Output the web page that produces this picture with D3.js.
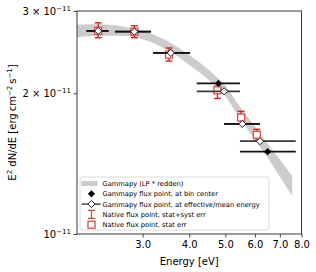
<!DOCTYPE html>
<html>
<head>
<meta charset="utf-8">
<script src="https://cdn.jsdelivr.net/npm/d3@7"></script>
<style>
body { margin: 0; background: #fff; }
text { font-family: "DejaVu Sans", sans-serif; }
</style>
</head>
<body>
<div id="sed"></div>
<script>
/* model band (LP * redden), flux in units of 1e-11 erg cm-2 s-1 */
var bandEnergy = [2.0, 2.3, 2.7, 3.14, 3.55, 4.0, 4.55, 5.0, 5.5, 6.0, 6.5, 7.0, 7.55];
var bandLow  = [2.636, 2.656, 2.653, 2.578, 2.456, 2.300, 2.125, 1.974, 1.753, 1.593, 1.454, 1.327, 1.206];
var bandHigh = [2.805, 2.810, 2.773, 2.689, 2.570, 2.416, 2.232, 2.073, 1.860, 1.698, 1.558, 1.443, 1.331];

/* gammapy flux points */
var binCenter  = [2.28, 2.85, 3.57, 4.79, 5.55, 6.49];
var binMin     = [2.12, 2.53, 3.20, 4.19, 4.96, 5.47];
var binMax     = [2.43, 3.16, 4.02, 5.47, 6.19, 7.72];
var fluxCenter = [2.72, 2.71, 2.44, 2.10, 1.72, 1.50];
var effEnergy  = [2.28, 2.85, 3.57, 4.96, 5.55, 6.19];
var fluxEff    = [2.72, 2.71, 2.44, 2.02, 1.72, 1.58];

/* native flux points */
var nativeEnergy = [2.28, 2.85, 3.53, 4.76, 5.51, 6.07];
var nativeFlux   = [2.72, 2.71, 2.42, 2.03, 1.775, 1.63];
var nativeLow    = [2.63, 2.63, 2.345, 1.95, 1.72, 1.585];
var nativeHigh   = [2.83, 2.79, 2.50, 2.07, 1.83, 1.675];

/* ticks */
var xTicks = [3, 4, 5, 6, 7, 8];
var yTicks = [1, 2, 3];
var yTickPrefix = ["", "2 \u00d7 ", "3 \u00d7 "];

var legendLabels = [
    "Gammapy (LP * redden)",
    "Gammapy flux point, at bin center",
    "Gammapy flux point, at effective/mean energy",
    "Native flux point, stat+syst err",
    "Native flux point, stat err"
];

var margin = {top: 11, right: 14.5, bottom: 38, left: 77},
    width = 316 - margin.left - margin.right,
    height = 272 - margin.top - margin.bottom,
    fontSize = 10,
    red = "#d62728";

var x = d3.scaleLog().domain([2, 8]).range([0, width]),
    y = d3.scaleLog().domain([1, 3]).range([height, 0]);

var svg = d3.select("#sed")
            .append("svg")
            .attr("width", 316)
            .attr("height", 272);

var chart = svg.append("g")
                .attr("transform", "translate(" + margin.left + "," + margin.top + ")");

/* model band */
var area = d3.area()
    .x(function(d, i) { return x(bandEnergy[i]); })
    .y0(function(d, i) { return y(bandLow[i]); })
    .y1(function(d, i) { return y(bandHigh[i]); })
    .curve(d3.curveMonotoneX);

chart.append("path")
        .datum(bandEnergy)
        .attr("d", area)
        .attr("fill", "#cccccc");

var idx = d3.range(binCenter.length);

/* native stat+syst error bars */
var nat = chart.append("g").selectAll("g")
        .data(idx)
        .enter().append("g");

nat.append("line")
        .attr("x1", function(i) { return x(nativeEnergy[i]); })
        .attr("x2", function(i) { return x(nativeEnergy[i]); })
        .attr("y1", function(i) { return y(nativeLow[i]); })
        .attr("y2", function(i) { return y(nativeHigh[i]); })
        .attr("stroke", red)
        .attr("stroke-width", 1.4);

[nativeLow, nativeHigh].forEach(function(arr) {
    nat.append("line")
            .attr("x1", function(i) { return x(nativeEnergy[i]) - 3.5; })
            .attr("x2", function(i) { return x(nativeEnergy[i]) + 3.5; })
            .attr("y1", function(i) { return y(arr[i]); })
            .attr("y2", function(i) { return y(arr[i]); })
            .attr("stroke", red)
            .attr("stroke-width", 1.4);
});

/* native squares */
nat.append("rect")
        .attr("x", function(i) { return x(nativeEnergy[i]) - 3.5; })
        .attr("y", function(i) { return y(nativeFlux[i]) - 3.5; })
        .attr("width", 7)
        .attr("height", 7)
        .attr("fill", "#fff")
        .attr("stroke", "#e04a4a")
        .attr("stroke-width", 1.3);

/* gammapy horizontal bars */
function bars(flux, color) {
    chart.append("g").selectAll("line")
            .data(idx)
            .enter().append("line")
                .attr("x1", function(i) { return x(binMin[i]); })
                .attr("x2", function(i) { return x(binMax[i]); })
                .attr("y1", function(i) { return y(flux[i]); })
                .attr("y2", function(i) { return y(flux[i]); })
                .attr("stroke", color)
                .attr("stroke-width", 1.8);
}
bars(fluxEff, "#3a3a3a");
bars(fluxCenter, "#111");

/* square diamond like matplotlib "D" */
var dr = 3.6;
var diamond = "M0," + (-dr) + "L" + dr + ",0L0," + dr + "L" + (-dr) + ",0Z";

/* bin center: black diamonds */
chart.append("g").selectAll("path")
        .data(idx)
        .enter().append("path")
            .attr("d", diamond)
            .attr("transform", function(i) { return "translate(" + x(binCenter[i]) + "," + y(fluxCenter[i]) + ")"; })
            .attr("fill", "#000");

/* effective energy: white diamonds */
chart.append("g").selectAll("path")
        .data(idx)
        .enter().append("path")
            .attr("d", diamond)
            .attr("transform", function(i) { return "translate(" + x(effEnergy[i]) + "," + y(fluxEff[i]) + ")"; })
            .attr("fill", "#fff")
            .attr("stroke", "#222")
            .attr("stroke-width", 1);

/* axes */
var xAxis = d3.axisBottom(x)
        .tickValues(xTicks)
        .tickFormat(d3.format(".1f"))
        .tickSize(3.5)
        .tickPadding(3.5);

var yAxis = d3.axisLeft(y)
        .tickValues(yTicks)
        .tickFormat("")
        .tickSize(3.5)
        .tickPadding(3.5);

var gx = chart.append("g")
        .attr("transform", "translate(0," + height + ")")
        .call(xAxis);

var gy = chart.append("g")
        .call(yAxis);

[gx, gy].forEach(function(g) {
    g.select(".domain").remove();
    g.selectAll(".tick line").attr("stroke", "#222").attr("stroke-width", 0.8);
    g.selectAll("text").attr("font-size", fontSize).attr("font-family", "DejaVu Sans").attr("fill", "#000");
});

/* y tick labels with exponent */
gy.selectAll(".tick").each(function(d, i) {
    var t = d3.select(this).append("text")
            .attr("x", -6)
            .attr("dy", "0.32em")
            .attr("text-anchor", "end")
            .attr("font-size", fontSize)
            .attr("fill", "#000");
    t.append("tspan").text(yTickPrefix[i] + "10");
    t.append("tspan")
            .attr("dy", "-0.55em")
            .attr("font-size", "0.7em")
            .text("\u221211");
});

/* frame */
chart.append("rect")
        .attr("width", width)
        .attr("height", height)
        .attr("fill", "none")
        .attr("stroke", "#222")
        .attr("stroke-width", 0.9);

/* axis labels */
chart.append("text")
        .attr("x", width / 2)
        .attr("y", height + 31)
        .attr("text-anchor", "middle")
        .attr("font-size", fontSize)
        .text("Energy [eV]");

var yl = chart.append("text")
        .attr("transform", "translate(" + (-margin.left + 15.5) + "," + (height / 2) + ")rotate(-90)")
        .attr("text-anchor", "middle")
        .attr("font-size", fontSize);

[["E", 0], ["2", 1], [" dN/dE [erg\u2009cm", 0], ["\u22122", 1], ["\u2009s", 0], ["\u22121", 1], ["]", 0]].forEach(function(p, k, all) {
    var prev = k > 0 ? all[k - 1][1] : 0;
    var span = yl.append("tspan").text(p[0]);
    if (p[1]) span.attr("font-size", "7px").attr("dy", "-4");
    else if (prev) span.attr("dy", "4");
});

/* legend */
var lx = 3, ly = 166, rowH = 10.3;

var legend = chart.append("g")
        .attr("class", "legend")
        .attr("transform", "translate(" + lx + "," + ly + ")");

legend.append("rect")
        .attr("width", 189)
        .attr("height", 53)
        .attr("rx", 2)
        .attr("fill", "#fff")
        .attr("fill-opacity", 0.8)
        .attr("stroke", "#d0d0d0")
        .attr("stroke-width", 0.8);

var rows = legend.selectAll("g.row")
        .data(legendLabels)
        .enter().append("g")
            .attr("class", "row")
            .attr("transform", function(d, i) { return "translate(0," + (6.5 + i * rowH) + ")"; });

rows.append("text")
        .attr("x", 22.5)
        .attr("dy", "0.36em")
        .attr("font-size", 6.7)
        .text(function(d) { return d; });

var mx = 11.5;
var r0 = d3.select(rows.nodes()[0]),
    r1 = d3.select(rows.nodes()[1]),
    r2 = d3.select(rows.nodes()[2]),
    r3 = d3.select(rows.nodes()[3]),
    r4 = d3.select(rows.nodes()[4]);

r0.append("rect")
        .attr("x", 1.5).attr("y", -2.5)
        .attr("width", 16).attr("height", 5)
        .attr("fill", "#cccccc");

r1.append("path")
        .attr("d", diamond)
        .attr("transform", "translate(" + mx + ",0)")
        .attr("fill", "#000");

r2.append("line")
        .attr("x1", 1.5).attr("x2", 20.5)
        .attr("stroke", "#3a3a3a").attr("stroke-width", 1.4);
r2.append("path")
        .attr("d", diamond)
        .attr("transform", "translate(" + mx + ",0)")
        .attr("fill", "#fff")
        .attr("stroke", "#222");

r3.append("path")
        .attr("d", "M" + (mx - 3.5) + ",-4H" + (mx + 3.5) + "M" + mx + ",-4V4M" + (mx - 3.5) + ",4H" + (mx + 3.5))
        .attr("fill", "none")
        .attr("stroke", "#b8504a")
        .attr("stroke-width", 1.2);

r4.append("rect")
        .attr("x", mx - 3.5).attr("y", -3.5)
        .attr("width", 7).attr("height", 7)
        .attr("fill", "#fff")
        .attr("stroke", "#e04a4a")
        .attr("stroke-width", 1.3);
</script>
</body>
</html>
